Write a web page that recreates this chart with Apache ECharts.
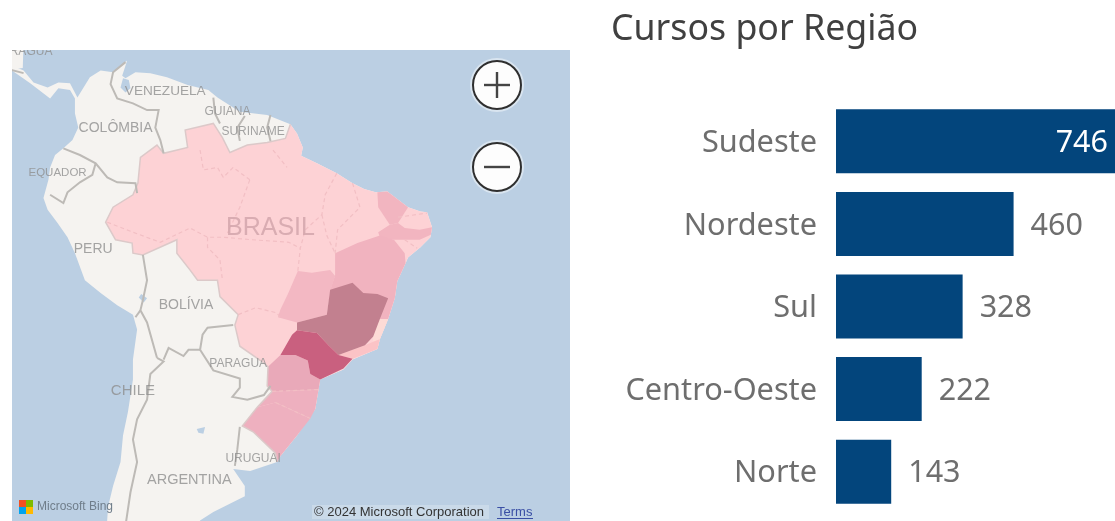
<!DOCTYPE html>
<html>
<head>
<meta charset="utf-8">
<style>html,body{margin:0;padding:0;background:#fff;overflow:hidden}#chart{width:1115px;height:521px}</style>
<script src="https://cdn.jsdelivr.net/npm/echarts@6/dist/echarts.min.js"></script>
</head>
<body>
<div id="chart"></div>
<script>
// barras
const regioes = ['Sudeste', 'Nordeste', 'Sul', 'Centro-Oeste', 'Norte']
const cursos = [746, 460, 328, 222, 143]

// mapa: contornos em [lon, lat]
const mar = [[-86.46, 15], [-17.15, 15], [-17.15, -40], [-86.46, -40]]
const nicaragua = [[-86.5, 15], [-84.1, 15], [-84.2, 12.1], [-86.5, 11.8]]
const costaNorte = [[-86.5, 12.4], [-85.5, 12.4], [-84.1, 11.8], [-82.9, 10.4], [-81.2, 9.8], [-79.9, 10.4], [-78.5, 10.3], [-77.6, 8.6], [-76.1, 11], [-74.8, 11.8], [-73.3, 11.6], [-71.6, 13], [-72.2, 11.2], [-71.8, 10.9], [-70.6, 11.6], [-68.8, 11.5], [-66.8, 11], [-64.3, 10.1], [-61.8, 9.5], [-60.7, 8.6], [-58, 6.9], [-54.7, 6.5]]
const costaBrasil = [[-51.9, 5.4], [-51.1, 4.3], [-50.4, 2.6], [-50.6, 1.6], [-48.7, 0.7], [-46.3, -0.5], [-44.4, -1.7], [-43, -2.4], [-41.6, -2.8], [-40.2, -2.7], [-37.7, -4.6], [-36.2, -5.1], [-35.4, -5.2], [-34.8, -7], [-35, -8.2], [-36.2, -9.4], [-37.7, -10.6], [-38, -11.3], [-39, -13.4], [-39.3, -15.4], [-40.1, -17.8], [-41.1, -20.1], [-41.4, -21.2], [-44.4, -22.4], [-45.5, -23.5], [-48.3, -24.6], [-48.9, -27.8], [-51.1, -30.6], [-53.1, -32.7], [-53.5, -33.3]]
const costaSul = [[-56.75, -34.2], [-58.8, -34], [-57.4, -35.7], [-57.4, -36.7], [-61.2, -38.2], [-62.8, -39], [-63.6, -40], [-74.1, -40]]
const costaPacifico = [[-73.9, -37.7], [-73.3, -35.7], [-72.4, -33.3], [-72.1, -30.6], [-71.5, -28.1], [-70.9, -24.6], [-70.9, -22.4], [-70.4, -19], [-70.9, -17.3], [-72.8, -16.2], [-74.8, -14.8], [-76.7, -13.3], [-77.9, -10.1], [-78.8, -8.2], [-80, -6.5], [-81.2, -4.9], [-81.7, -3.5], [-81.1, -1.3], [-80.9, 0.2], [-80.3, 1.7], [-79.3, 2.5], [-78.2, 3.5], [-77.5, 5], [-77.9, 6.7], [-77.9, 8.5], [-78.5, 9.5], [-79.9, 9.7], [-80.9, 8.5], [-83.3, 10.3], [-85.5, 11.8], [-86.5, 11.8]]
const fronteiraBrasil = [[-53.5, -33.3], [-53.7, -32.4], [-56.4, -30.2], [-57.7, -29.6], [-55.9, -27.6], [-54.1, -25.9], [-54.7, -25.3], [-54.6, -23.2], [-55.2, -22.7], [-58, -20.9], [-58.6, -18.5], [-58.2, -17.3], [-60.4, -15.2], [-60.7, -13.3], [-63.1, -13.3], [-64, -12.1], [-65.6, -10.1], [-65.6, -8.5], [-69.7, -10.3], [-70.9, -10.1], [-71, -8.9], [-73, -8.5], [-74.2, -6.4], [-73.3, -4.6], [-70.9, -3.1], [-70.3, -1.7], [-70, 1.4], [-68, 2.9], [-67.2, 1.9], [-64.3, 2.6], [-64.6, 4.7], [-61.2, 5.5], [-60.1, 3.8], [-59.2, 2], [-57.1, 2.9], [-54.7, 3.2], [-52.5, 3.7], [-51.9, 5.4]]

const ceara = [[-41.4, -2.8], [-40.2, -2.7], [-37.7, -4.6], [-38.9, -6.5], [-39.9, -6.7], [-41.3, -4.6]]
const pernambuco = [[-39.9, -6.7], [-38.9, -6.5], [-38.1, -7.1], [-36.3, -7.3], [-34.8, -7], [-34.95, -7.9], [-36.3, -8.5], [-38.1, -8.5], [-39.4, -8.5], [-41.1, -8.2], [-41.3, -7.6]]
const bahia = [[-38.1, -10.1], [-38, -11.3], [-39, -13.4], [-39.3, -15.4], [-40.1, -17.8], [-41.1, -17.8], [-43, -16], [-47.1, -14.4], [-46.5, -12.7], [-46.5, -10.1], [-43.8, -8.9], [-41.1, -8], [-39.4, -8.5]]
const goias = [[-51, -12.2], [-49.3, -12.4], [-47.1, -12.1], [-46.5, -12.8], [-47.1, -14.6], [-47.5, -17.3], [-51.1, -18.2], [-53.4, -17.6], [-53.1, -16.7], [-52.2, -14.9]]
const minasGerais = [[-44.4, -13.6], [-47.1, -14.4], [-47.5, -17.3], [-51.1, -18.2], [-51.1, -19.1], [-48.7, -19.4], [-47.3, -20.8], [-46.1, -21.9], [-42.9, -20.8], [-41.9, -19.8], [-41.1, -17.8], [-40.1, -15.4], [-41.4, -14.9], [-43.1, -14.8]]
const saoPaulo = [[-53.1, -21.9], [-51.7, -19.6], [-51.1, -19.1], [-48.7, -19.4], [-47.3, -20.8], [-46.1, -21.9], [-44.4, -22.3], [-45.5, -23.4], [-48.3, -24.6], [-49.5, -24], [-49.8, -22.5], [-51.3, -21.9]]
const rioDeJaneiro = [[-46.1, -21.9], [-42.9, -20.8], [-41.9, -20.4], [-41.1, -20.1], [-41.4, -21.2], [-44.4, -22.3]]
const espiritoSanto = [[-41.1, -17.8], [-40.1, -17.8], [-41.1, -20.1], [-41.9, -20.4], [-42, -19.6]]
const parana = [[-54.6, -23.2], [-53.1, -21.9], [-51.3, -21.9], [-49.8, -22.5], [-49.5, -24], [-48.3, -24.6], [-48.5, -25.7], [-54.1, -25.9], [-54.7, -25.3]]
const santaCatarina = [[-54.1, -25.9], [-48.5, -25.7], [-48.9, -27.8], [-49.5, -28.8], [-53.7, -27.1], [-55.9, -27.6]]
const rioGrandeDoSul = [[-53.7, -27.1], [-49.5, -28.8], [-51.1, -30.6], [-53.1, -32.7], [-53.5, -33.3], [-53.7, -32.4], [-56.4, -30.2], [-57.7, -29.6], [-55.9, -27.6]]

const lagos = [
  [[-72.1, 10.9], [-71.4, 10.7], [-71.2, 9.7], [-71.8, 9.2], [-72.4, 9.8]],
  [[-69.9, -14.9], [-69.2, -15.4], [-69.6, -15.9], [-70.2, -15.3]],
  [[-63.2, -29.9], [-62.2, -29.7], [-62.4, -30.4], [-63, -30.3]]
]

const coresEstados = {
  Mar: '#bbcfe3', Terra: '#f5f3f0', Brasil: '#fdd2d5', Lagos: '#bbcfe3',
  Ceara: '#f2b5c0', Pernambuco: '#f2b5c0', Bahia: '#f1b3bf', Goias: '#f3b8c3',
  MinasGerais: '#c2808f', SaoPaulo: '#c9607f', RioDeJaneiro: '#fbc3c6', EspiritoSanto: '#fddbd6',
  Parana: '#e9a9b9', SantaCatarina: '#eeb0bf', RioGrandeDoSul: '#eeb0bf'
}

const fronteiras = [
  [[-86.5, 12.1], [-84.1, 11.5]],
  [[-71.8, 12.8], [-73.3, 11.6], [-73.6, 10.2], [-72.8, 8.5], [-70.9, 7.9], [-69.2, 7.1], [-67.8, 7.1], [-68.2, 5], [-67.6, 3.5], [-67.2, 1.9]],
  [[-61.2, 8.6], [-61, 6.7], [-60.4, 5.5]],
  [[-57.4, 6.4], [-58.3, 5], [-58, 3.4]],
  [[-54.3, 6.5], [-54.7, 5], [-54.3, 3.4]],
  [[-79.3, 2.5], [-77.3, 1.7], [-75.4, 0.7], [-74, -1], [-72.8, -1.6], [-70.6, -1.7], [-70.4, -2.9]],
  [[-75.4, 0.7], [-75.8, -0.7], [-77.3, -1.6], [-78.8, -2.8], [-79.3, -4.1], [-80.9, -3.1]],
  [[-69.7, -10.3], [-69.2, -13.3], [-69.7, -15.6], [-70, -16.8], [-69.2, -18.2], [-68, -22.2]],
  [[-70, -16.8], [-70.6, -17.6]],
  [[-68, -22.2], [-67.2, -22.6], [-68.8, -24], [-69.2, -26.8], [-70.4, -28.9], [-70.9, -31], [-70.4, -33.3], [-71.2, -36.3], [-71.9, -40]],
  [[-67.2, -22.4], [-66.6, -21.1], [-64.8, -22], [-64.2, -21.3], [-62.8, -21.3]],
  [[-62.8, -21.3], [-62.5, -19.6], [-61.9, -18.8], [-58.8, -18.5]],
  [[-62.8, -21.3], [-61.2, -23.6], [-58, -24.5], [-58, -25.5], [-58.9, -26.5], [-57.1, -26.8], [-55.1, -26.3], [-54.3, -25.3]],
  [[-58, -29.7], [-58.3, -32], [-58.6, -33.7]]
]

const divisas = [
  [[-74, -6.4], [-70.9, -7.6], [-67.6, -8.8], [-64, -7.1], [-61.9, -8.2], [-60, -8.2], [-56.5, -8.5], [-52.1, -8.8], [-50.7, -9.5]],
  [[-61.9, -8.2], [-61.9, -9.4], [-60.4, -10.9], [-60.1, -13.3]],
  [[-56.8, -1.3], [-58, -4.6], [-59.5, -7.7]],
  [[-62.8, 2.3], [-62.4, -0.1], [-60.7, 0.2], [-60, -1], [-58.8, 0.2], [-56.8, -1.3]],
  [[-54, 2.3], [-52.3, 0.2]],
  [[-46.3, -0.5], [-47.7, -3.1], [-48.1, -5.5], [-50.1, -7.3], [-50.7, -9.5], [-51, -12.2]],
  [[-48.1, -5.5], [-47.5, -8], [-46.5, -10.1]],
  [[-44.4, -1.7], [-43.5, -4.6], [-46.2, -7.3], [-46.5, -10.1]],
  [[-58.2, -17.3], [-56.1, -16.5], [-53.5, -17.1], [-53.1, -17.7]],
  [[-38.9, -5.8], [-35.4, -5.3]],
  [[-38.1, -8.5], [-36.6, -9.5]],
  [[-54.1, -25.9], [-48.5, -25.7]],
  [[-53.7, -27.1], [-49.5, -28.8]]
]

const nomesPaises = ['RAGUA', 'VENEZUELA', 'GUIANA', 'SURINAME', 'COLÔMBIA', 'EQUADOR', 'PERU', 'BOLÍVIA', 'PARAGUA', 'CHILE', 'ARGENTINA', 'URUGUAI']
const posicoesPaises = [[-83.2, 14.0], [-67, 9.3], [-59.5, 6.9], [-56.4, 4.5], [-73, 4.9], [-80, -0.5], [-75.7, -9.6], [-64.5, -16.2], [-58.2, -22.9], [-70.9, -25.8], [-64.1, -35.1], [-56.4, -33]]
const tamanhosPaises = [12, 13.6, 12, 12, 14, 11.5, 14, 14, 12, 15, 14.5, 12]

const poligono = (name, ...aneis) => ({
  type: 'Feature',
  properties: { name },
  geometry: { type: 'Polygon', coordinates: aneis.map(a => [[...a, a[0]]]).flat() }
})

const geoJson = {
  type: 'FeatureCollection',
  features: [
    poligono('Mar', mar),
    poligono('Nicaragua', nicaragua),
    poligono('Terra', [...costaNorte, ...costaBrasil, ...costaSul, ...costaPacifico]),
    poligono('Brasil', [...costaBrasil, ...fronteiraBrasil]),
    poligono('Ceara', ceara),
    poligono('Pernambuco', pernambuco),
    poligono('Bahia', bahia),
    poligono('Goias', goias),
    poligono('Parana', parana),
    poligono('SantaCatarina', santaCatarina),
    poligono('RioGrandeDoSul', rioGrandeDoSul),
    poligono('EspiritoSanto', espiritoSanto),
    poligono('RioDeJaneiro', rioDeJaneiro),
    poligono('MinasGerais', minasGerais),
    poligono('SaoPaulo', saoPaulo),
    ...lagos.map((l, i) => poligono('Lago' + i, l))
  ]
}
echarts.registerMap('americaDoSul', geoJson)

const rad = Math.PI / 180
// Mercator, como o mapa de fundo do Bing
const projecao = {
  project: ([lon, lat]) => [lon, -Math.log(Math.tan(Math.PI / 4 + lat * rad / 2)) / rad],
  unproject: ([x, y]) => [x, -(2 * Math.atan(Math.exp(-y * rad)) - Math.PI / 2) / rad]
}

const corDe = name => coresEstados[name] || (name.startsWith('Lago') ? coresEstados.Lagos : coresEstados.Terra)
const linhas = (dados, color, width, type) => ({
  type: 'lines', coordinateSystem: 'geo', geoIndex: 0, polyline: true, silent: true,
  symbol: 'none', effect: { show: false },
  data: dados.map(coords => ({ coords })),
  lineStyle: { color, width, type, opacity: 1, curveness: 0 }
})

const chart = echarts.init(document.getElementById('chart'))

const botaoZoom = (cy, sinal) => [
  { type: 'circle', shape: { cx: 497, cy, r: 27 }, style: { fill: 'rgba(255,255,255,0.45)' }, z: 50 },
  { type: 'circle', shape: { cx: 497, cy, r: 24 }, style: { fill: '#fdfdfd', stroke: '#2f2f2f', lineWidth: 2 }, z: 51 },
  { type: 'rect', shape: { x: 484, y: cy - 1.2, width: 26, height: 2.4 }, style: { fill: '#444' }, z: 52 },
  ...(sinal ? [{ type: 'rect', shape: { x: 495.8, y: cy - 13, width: 2.4, height: 26 }, style: { fill: '#444' }, z: 52 }] : [])
]

chart.setOption({
  animation: false,
  backgroundColor: '#fff',
  title: {
    text: 'Cursos por Região', left: 606, top: 7,
    textStyle: { fontFamily: 'Noto Sans', fontSize: 35.7, fontWeight: 'normal', color: '#404040' }
  },
  geo: {
    map: 'americaDoSul',
    projection: projecao,
    roam: false,
    silent: true,
    layoutCenter: [291, 287.3],
    layoutSize: 574.6,
    aspectScale: 1,
    label: { show: false },
    itemStyle: { areaColor: '#f5f3f0', borderWidth: 0, borderColor: 'transparent' },
    regions: geoJson.features.map(f => ({
      name: f.properties.name,
      itemStyle: { areaColor: corDe(f.properties.name), borderWidth: 0, borderColor: 'transparent' }
    }))
  },
  // a barra do Sudeste passa da borda da janela, como na figura
  grid: { left: 836, width: 288, top: 100, height: 413, outerBoundsMode: 'none' },
  xAxis: { type: 'value', min: 0, max: 746, show: false },
  yAxis: {
    type: 'category', data: regioes, inverse: true,
    axisLine: { show: false }, axisTick: { show: false }, splitLine: { show: false },
    axisLabel: {
      margin: 19, formatter: '{t|{value}}',
      rich: { t: { padding: [4, 0, 0, 0], fontFamily: 'Noto Sans', fontSize: 30.7, color: '#6e6e6e' } }
    }
  },
  series: [
    linhas([fronteiraBrasil], '#dcc9c9', 1.5, 'solid'),
    linhas(fronteiras, '#bdbab6', 2, 'solid'),
    linhas(divisas, '#f2bfc4', 1.2, [4, 3]),
    {
      type: 'scatter', coordinateSystem: 'geo', geoIndex: 0, silent: true, symbolSize: 0,
      data: nomesPaises.map((name, i) => ({
        name, value: posicoesPaises[i], label: { fontSize: tamanhosPaises[i] }
      })),
      label: {
        show: true, position: 'inside', formatter: '{b}',
        fontFamily: 'Liberation Sans', color: '#8e8e8e'
      }
    },
    {
      type: 'scatter', coordinateSystem: 'geo', geoIndex: 0, silent: true, symbolSize: 0,
      data: [{ name: 'BRASIL', value: [-54.3, -7.1] }],
      label: {
        show: true, position: 'inside', formatter: '{b}',
        fontFamily: 'Liberation Sans', fontSize: 25, color: '#cfa3a9'
      }
    },
    {
      type: 'bar', data: cursos.map((value, i) => i === 0
        ? { value, label: { position: 'insideRight', distance: 16, color: '#fff' } }
        : value),
      barWidth: 64,
      itemStyle: { color: '#03457c' },
      label: {
        show: true, position: 'right', distance: 17, offset: [0, 2],
        fontFamily: 'Noto Sans', fontSize: 30.5, color: '#6e6e6e'
      }
    }
  ],
  graphic: [
    // margens que recortam o mapa
    { type: 'rect', shape: { x: 0, y: 0, width: 600, height: 50 }, style: { fill: '#fff' }, z: 40 },
    { type: 'rect', shape: { x: 0, y: 0, width: 12, height: 521 }, style: { fill: '#fff' }, z: 40 },
    { type: 'rect', shape: { x: 570, y: 0, width: 30, height: 521 }, style: { fill: '#fff' }, z: 40 },
    ...botaoZoom(85, true),
    ...botaoZoom(167, false),
    { type: 'rect', shape: { x: 19, y: 500, width: 7, height: 7 }, style: { fill: '#f25022' }, z: 50 },
    { type: 'rect', shape: { x: 26, y: 500, width: 7, height: 7 }, style: { fill: '#7fba00' }, z: 50 },
    { type: 'rect', shape: { x: 19, y: 507, width: 7, height: 7 }, style: { fill: '#00a4ef' }, z: 50 },
    { type: 'rect', shape: { x: 26, y: 507, width: 7, height: 7 }, style: { fill: '#ffb900' }, z: 50 },
    { type: 'text', x: 37, y: 501, z: 50, style: { text: 'Microsoft Bing', font: '12px "Liberation Sans"', fill: '#6f7d8a' } },
    { type: 'rect', shape: { x: 312, y: 505, width: 177, height: 14 }, style: { fill: 'rgba(240,244,248,0.3)' }, z: 49 },
    { type: 'text', x: 314, y: 506, z: 50, style: { text: '© 2024 Microsoft Corporation', font: '13px "Liberation Sans"', fill: '#333' } },
    { type: 'text', x: 497, y: 506, z: 50, style: { text: 'Terms', font: '13px "Liberation Sans"', fill: '#3a4fa5' } },
    { type: 'rect', shape: { x: 497, y: 518, width: 36, height: 1 }, style: { fill: '#3a4fa5' }, z: 50 }
  ]
})

window.addEventListener('resize', () => chart.resize())
</script>
</body>
</html>
